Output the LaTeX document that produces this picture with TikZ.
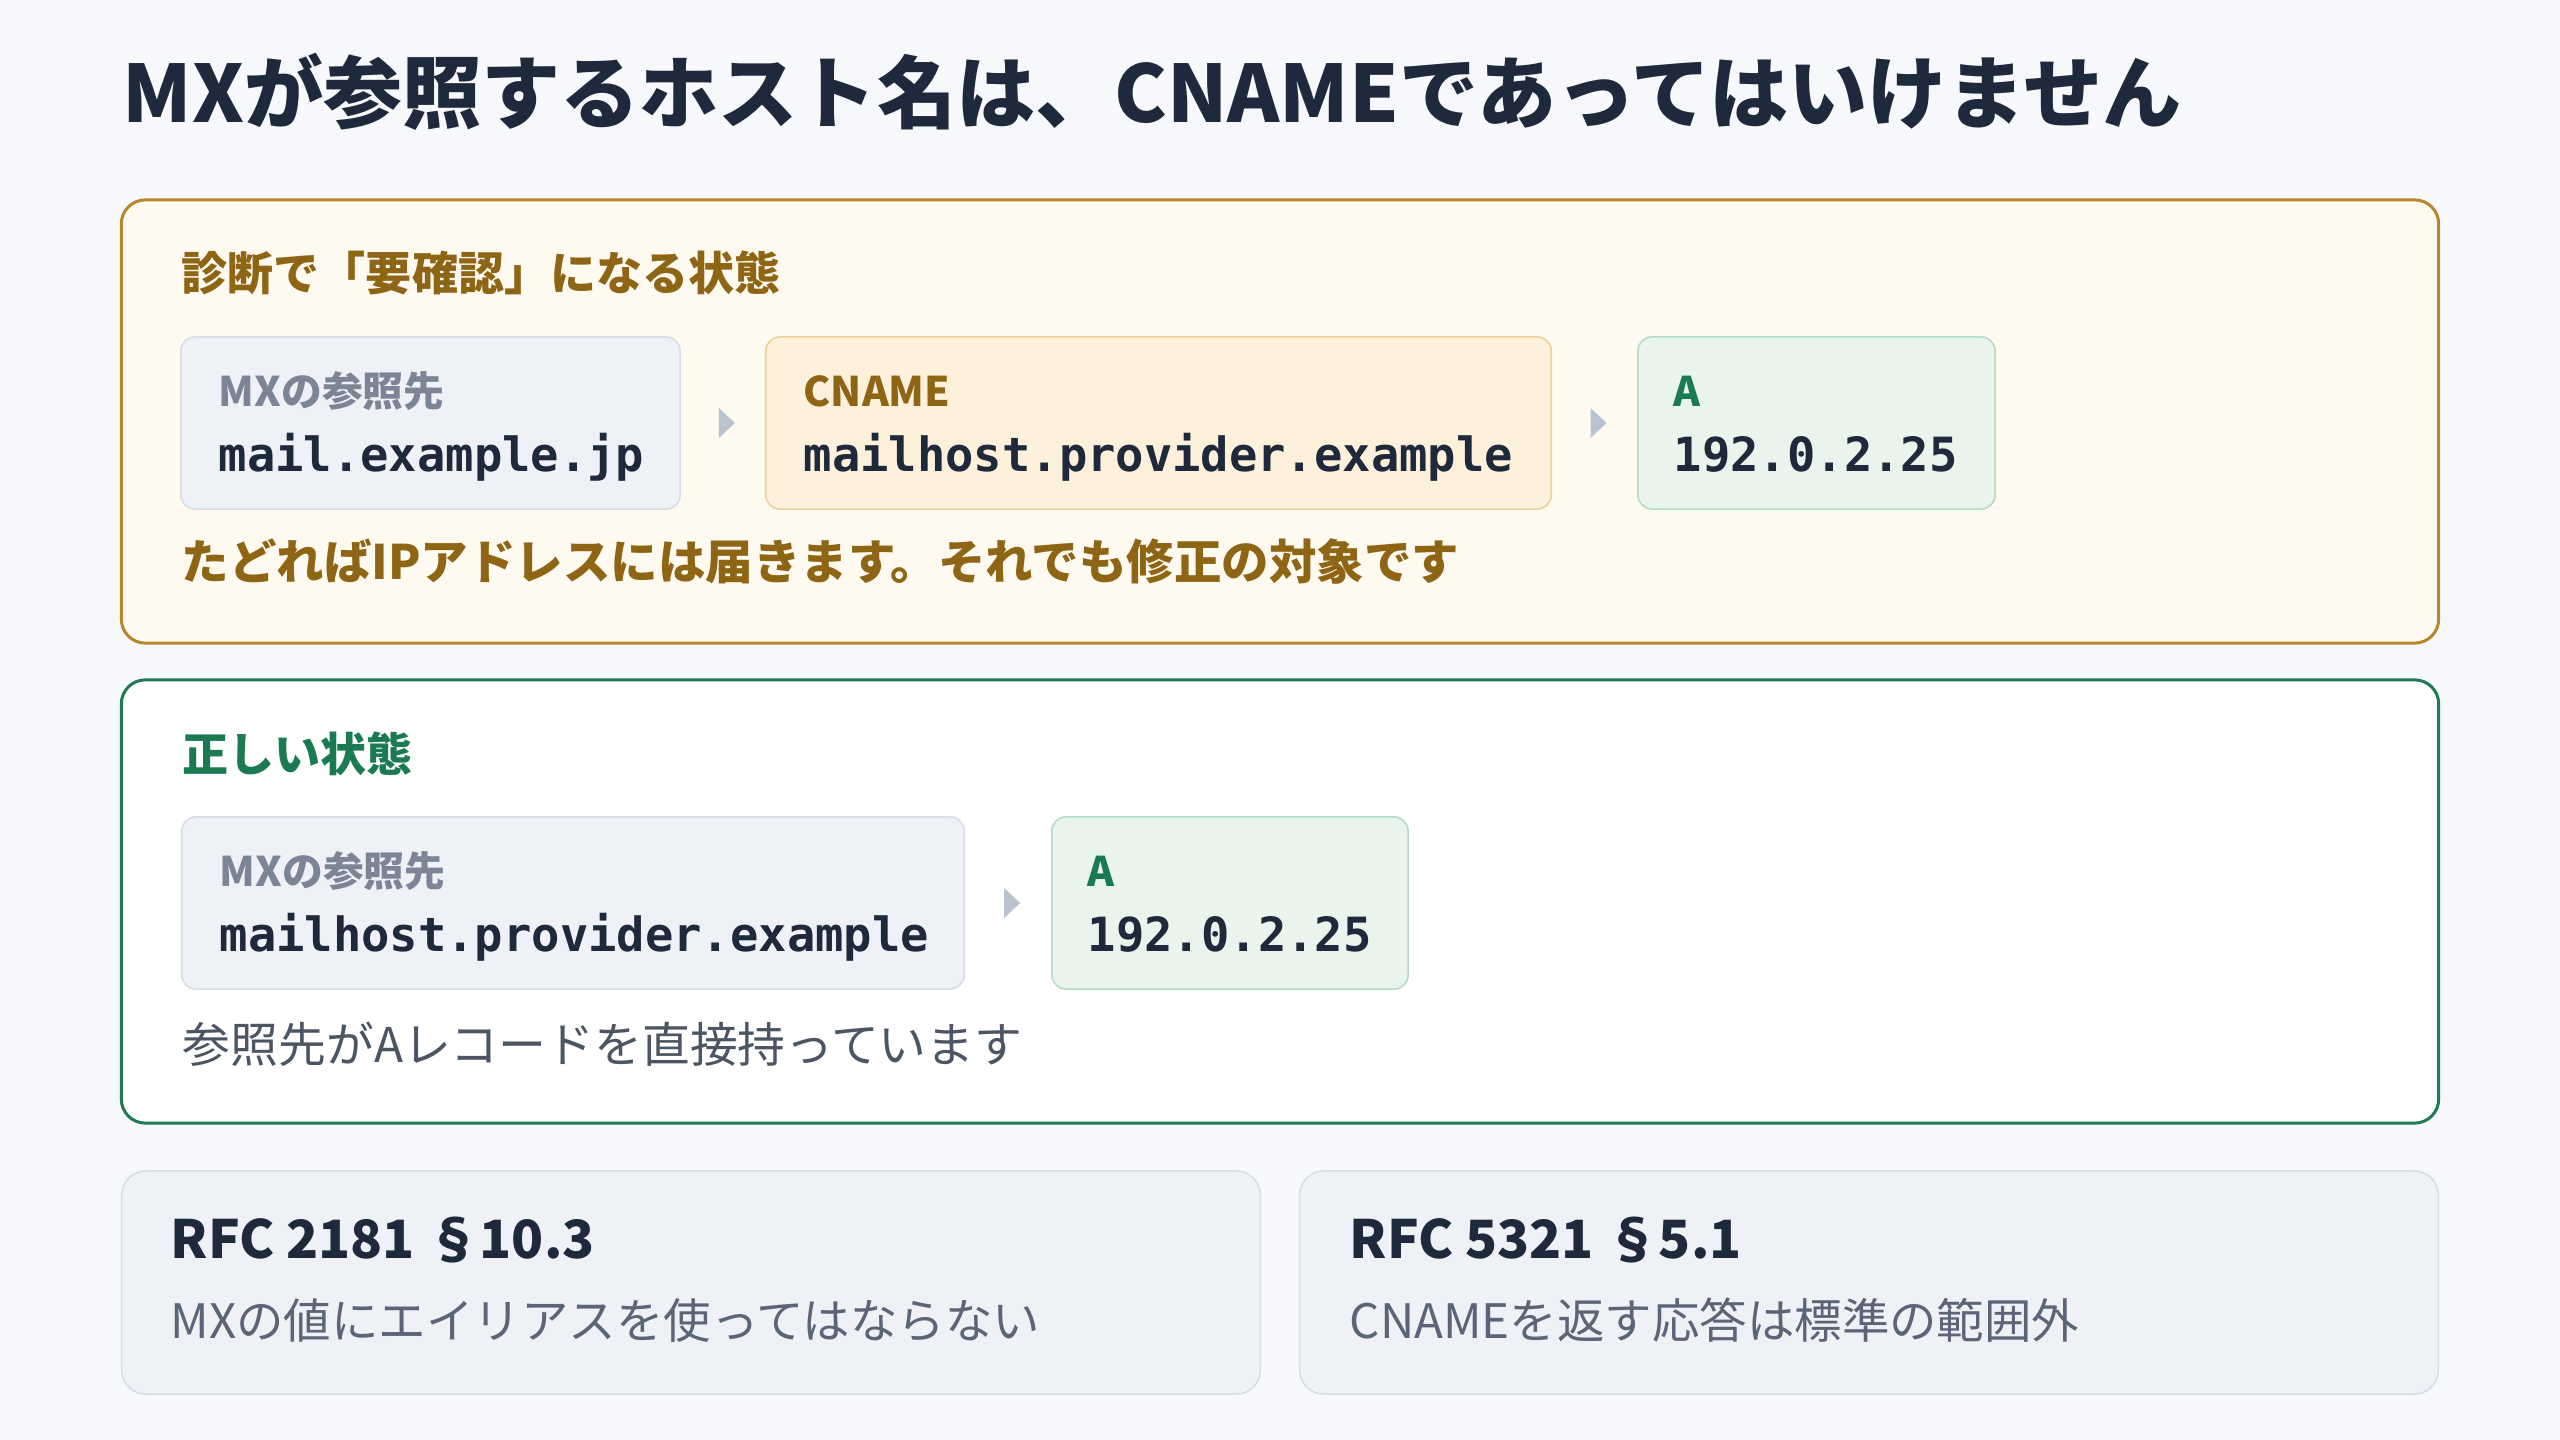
\documentclass[tikz,border=0pt]{standalone}
\usepackage{fontspec}
\setmainfont{Noto Sans CJK JP}
\setmonofont{DejaVu Sans Mono}
\usetikzlibrary{positioning, calc}

\definecolor{pagebg}{HTML}{F6F8FB}
\definecolor{ink}{HTML}{1E293B}
\definecolor{warnline}{HTML}{B8862B}
\definecolor{warnfill}{HTML}{FFFAF0}
\definecolor{warntext}{HTML}{8E6515}
\definecolor{okline}{HTML}{1F7A57}
\definecolor{oktext}{HTML}{1A7A52}
\definecolor{chipfill}{HTML}{EEF2F6}
\definecolor{chipline}{HTML}{D6DDE5}
\definecolor{cnfill}{HTML}{FDF1DC}
\definecolor{cnline}{HTML}{EBD09A}
\definecolor{afill}{HTML}{E8F4EC}
\definecolor{aline}{HTML}{B4DBC5}
\definecolor{mutedtext}{HTML}{7B8595}
\definecolor{bodytext}{HTML}{4B5563}
\definecolor{subtext}{HTML}{5B6577}
\definecolor{tricol}{HTML}{B9C2CF}

\begin{document}
\begin{tikzpicture}[
    x=0.01cm, y=-0.01cm,
    panel/.style={rectangle, rounded corners=0.24cm, line width=0.85pt, inner sep=0},
    chip/.style={rectangle, rounded corners=0.14cm, line width=0.45pt, inner sep=0, minimum height=1.72cm},
    card/.style={rectangle, rounded corners=0.24cm, line width=0.45pt, draw=chipline, fill=chipfill, inner sep=0, minimum width=11.38cm, minimum height=2.23cm},
    txt/.style={anchor=base west, inner sep=0},
    headline/.style={txt, text=ink, font=\fontsize{22.5pt}{27pt}\selectfont\bfseries},
    paneltitle/.style={txt, font=\fontsize{13.1pt}{16pt}\selectfont\bfseries},
    lbl/.style={txt, font=\fontsize{11.6pt}{14pt}\selectfont\bfseries},
    host/.style={txt, text=ink, font=\fontsize{13.4pt}{16pt}\selectfont\ttfamily\bfseries},
    desc/.style={txt, font=\fontsize{13.6pt}{16pt}\selectfont},
    rfcsub/.style={txt, text=subtext, font=\fontsize{13.5pt}{16pt}\selectfont},
    rfc/.style={txt, text=ink, font=\fontsize{15pt}{18pt}\selectfont\bfseries},
    tri/.style={fill=tricol}
  ]
    % page
    \fill[pagebg] (0,0) rectangle (2560,1440);
    \useasboundingbox (0,0) rectangle (2560,1440);

    % Headline
    \node[headline] (head) at (122,123) {MXが参照するホスト名は、CNAMEであってはいけません};

    % Panel: needs review
    \node[panel, draw=warnline, fill=warnfill, minimum width=23.16cm, minimum height=4.43cm] (warn) at (1280,421.5) {};
    \node[paneltitle, text=warntext] (warnT) at (181,291) {診断で「要確認」になる状態};

    \node[chip, draw=chipline, fill=chipfill, minimum width=4.99cm] (mx1) at (430.5,423) {};
    \node[chip, draw=cnline, fill=cnfill, minimum width=7.85cm] (cn1) at (1158.5,423) {};
    \node[chip, draw=aline, fill=afill, minimum width=3.57cm] (a1) at (1816.5,423) {};

    \node[lbl, text=mutedtext] (mx1k) at ($(mx1.north west)+(38,70)$) {MXの参照先};
    \node[host] (mx1v) at ($(mx1.north west)+(38,135)$) {mail.example.jp};
    \node[lbl, text=warntext] (cn1k) at ($(cn1.north west)+(38,70)$) {CNAME};
    \node[host] (cn1v) at ($(cn1.north west)+(38,135)$) {mailhost.provider.example};
    \node[lbl, text=oktext] (a1k) at ($(a1.north west)+(36,70)$) {A};
    \node[host] (a1v) at ($(a1.north west)+(36,135)$) {192.0.2.25};

    % small arrow heads between chips
    \fill[tri] ($(mx1.east)!0.5!(cn1.west)+(-4,-15)$) -- ++(16,15) -- ++(-16,15) -- cycle;
    \fill[tri] ($(cn1.east)!0.5!(a1.west)+(-4,-15)$) -- ++(16,15) -- ++(-16,15) -- cycle;

    \node[desc, text=warntext, font=\fontsize{13.5pt}{16pt}\selectfont\bfseries] (warnD) at (181,580) {たどればIPアドレスには届きます。それでも修正の対象です};

    % Panel: correct state
    \node[panel, draw=okline, fill=white, minimum width=23.16cm, minimum height=4.43cm] (ok) at (1280,901.5) {};
    \node[paneltitle, text=oktext] (okT) at (182,772) {正しい状態};

    \node[chip, draw=chipline, fill=chipfill, minimum width=7.82cm] (mx2) at (573,903) {};
    \node[chip, draw=aline, fill=afill, minimum width=3.56cm] (a2) at (1230,903) {};

    \node[lbl, text=mutedtext] (mx2k) at ($(mx2.north west)+(38,70)$) {MXの参照先};
    \node[host] (mx2v) at ($(mx2.north west)+(38,135)$) {mailhost.provider.example};
    \node[lbl, text=oktext] (a2k) at ($(a2.north west)+(36,70)$) {A};
    \node[host] (a2v) at ($(a2.north west)+(36,135)$) {192.0.2.25};

    \fill[tri] ($(mx2.east)!0.5!(a2.west)+(-4,-15)$) -- ++(16,15) -- ++(-16,15) -- cycle;

    \node[desc, text=bodytext] (okD) at (182,1062) {参照先がAレコードを直接持っています};

    % RFC cards
    \node[card] (rfcA) at (691,1282.5) {};
    \node[card] (rfcB) at (1869,1282.5) {};

    \node[rfc] (rfcAT) at (170,1258) {RFC 2181 §10.3};
    \node[rfcsub] (rfcAD) at (170,1338) {MXの値にエイリアスを使ってはならない};
    \node[rfc] (rfcBT) at (1349,1258) {RFC 5321 §5.1};
    \node[rfcsub] (rfcBD) at (1349,1338) {CNAMEを返す応答は標準の範囲外};
  \end{tikzpicture}
\end{document}
